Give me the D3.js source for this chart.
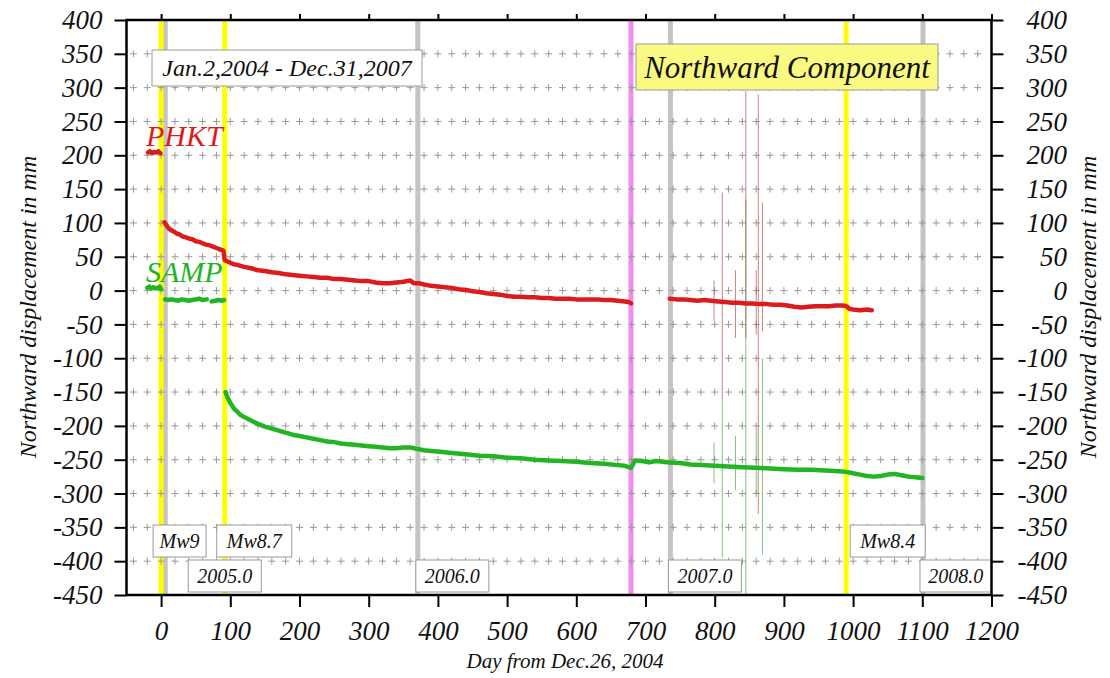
<!DOCTYPE html>
<html>
<head>
<meta charset="utf-8">
<script src="https://cdn.jsdelivr.net/npm/d3@7"></script>
<style>
  html, body { margin: 0; padding: 0; background: #fff; }
  svg { display: block; }
  text { font-family: "Liberation Serif", "Times New Roman", serif; font-style: italic; fill: #111; }
</style>
</head>
<body>
<div id="chart"></div>
<script>
// ---- data (day from Dec.26 2004, northward mm) ----
// null marks a gap in the record
var phkt = [
  [-19,204],[-16,206],[-13,203],[-10,205],[-7,204],[-4,206],[-1,203], null,
  [5,101],[8,96],[11,92],[15,89],[19,87],[23,84],[27,83],[31,80],[35,79],[40,77],[45,76],
  [50,73],[55,72],[60,70],[65,68],[70,67],[75,65],[80,63],[85,61],[90,59],
  [92,45],[96,43],[100,41],[105,39],[110,38],[120,35],[130,33],[140,30],[150,29],[160,27],
  [170,26],[180,24],[190,23],[200,22],[210,21],[220,20],[230,19],[240,19],[250,17],[260,17],
  [270,16],[280,15],[290,14],[300,14],[310,12],[320,11],[330,11],[340,12],[350,13],[360,15],
  [365,11],[372,11],[380,9],[390,7],[400,6],[410,5],[420,4],[430,2],[440,1],[450,-1],
  [460,-2],[470,-4],[480,-5],[490,-6],[500,-8],[510,-9],[520,-9],[530,-10],[540,-10],[550,-11],
  [560,-11],[570,-12],[580,-12],[590,-12],[600,-13],[610,-13],[620,-13],[630,-13],[640,-14],
  [650,-14],[660,-15],[670,-16],[676,-17],[679,-19], null,
  [735,-12],[745,-13],[755,-13],[765,-14],[775,-15],[785,-14],[795,-15],[805,-16],[815,-17],
  [825,-18],[835,-18],[845,-19],[855,-19],[865,-20],[875,-20],[885,-21],[895,-21],[905,-22],
  [915,-24],[925,-25],[935,-24],[945,-23],[955,-23],[965,-23],[975,-22],[985,-22],[990,-23],
  [995,-27],[1000,-28],[1010,-29],[1020,-28],[1027,-29]
];

var samp = [
  [-20,4],[-17,6],[-14,3],[-11,5],[-8,3],[-5,4],[-2,6],[0,2], null,
  [6,-13],[10,-14],[15,-13],[20,-14],[25,-15],[30,-13],[35,-14],[40,-15],[45,-14],[50,-13],
  [55,-12],[60,-14],[66,-13], null,
  [73,-16],[78,-15],[83,-14],[88,-15],[91,-14], null,
  [93,-150],[96,-158],[100,-166],[105,-174],[110,-179],[115,-184],[120,-187],[130,-192],
  [140,-197],[150,-201],[160,-204],[170,-207],[180,-210],[190,-213],[200,-215],[210,-217],
  [220,-219],[230,-221],[240,-223],[250,-224],[260,-226],[270,-227],[280,-228],[290,-229],
  [300,-230],[310,-231],[320,-232],[330,-233],[340,-233],[350,-232],[360,-232],[370,-234],
  [380,-236],[390,-237],[400,-238],[420,-240],[440,-242],[460,-244],[480,-245],[500,-247],
  [520,-248],[540,-250],[560,-251],[580,-252],[600,-253],[620,-255],[640,-256],[660,-258],
  [670,-259],[679,-262],[685,-251],[695,-252],[705,-254],[715,-252],[725,-253],[735,-254],
  [750,-255],[765,-257],[780,-258],[800,-259],[820,-260],[840,-261],[860,-262],[880,-263],
  [900,-264],[920,-265],[940,-265],[960,-266],[980,-267],[990,-268],[1000,-270],[1010,-272],
  [1020,-274],[1030,-275],[1040,-274],[1050,-272],[1060,-271],[1070,-273],[1080,-275],
  [1090,-276],[1100,-277]
];

// outlier days drawn as thin vertical strokes: [day, top, bottom]
var phktSpikes = [[799,15,-45],[811,145,-160],[830,30,-70],[845,295,-70],[860,30,-65],[863,290,-330],[869,130,-60]];
var sampSpikes = [[799,-225,-285],[811,-160,-395],[830,-215,-295],[845,135,-450],[860,-205,-300],[869,-100,-390]];

var quakeDays   = [0, 92, 990];
var quakeLabels = ['Mw9', 'Mw8.7', 'Mw8.4'];
var yearDays    = [6, 371, 736, 1101];
var yearLabels  = ['2005.0', '2006.0', '2007.0', '2008.0'];
var breakDays   = [679];

var xTicks = d3.range(0, 1201, 100);
var yTicks = d3.range(-450, 401, 50);

var periodText = 'Jan.2,2004 - Dec.31,2007';
var titleText  = 'Northward Component';

// ---- layout ----
var config = {
  width: 1110, height: 678,
  left: 126.5, right: 991.5, top: 20, bottom: 595,
  tickFont: 27, boxFont: 20,
  red: '#dc1c1c', green: '#22b422',
  yellow: '#ffff00', gray: '#c4c4c4', pink: '#f08ef0',
  quakeDx: [-8, -8, 4],        // box offset from the event line
  yearDx:  [23, -2, -2, -3],
  rightLabelEnd: 1067          // right tick labels are right-aligned here
};

var svg = d3.select('#chart').append('svg')
  .attr('width', config.width).attr('height', config.height);

var x = d3.scaleLinear().domain([-50, 1200]).range([config.left, config.right]);
var y = d3.scaleLinear().domain([-450, 400]).range([config.bottom, config.top]);

// vertical marker lines
function vlines(days, color) {
  svg.append('g').selectAll('line').data(days).enter().append('line')
    .attr('x1', function(d) { return x(d); }).attr('x2', function(d) { return x(d); })
    .attr('y1', config.top).attr('y2', config.bottom)
    .attr('stroke', color).attr('stroke-width', 5);
}
vlines(yearDays, config.gray);
vlines(quakeDays, config.yellow);
vlines(breakDays, config.pink);

// "+" grid
var crossDays = d3.range(-40, 1200, 20);
var crossVals = d3.range(-400, 400, 50);
var crosses = [];
crossDays.forEach(function(d) { crossVals.forEach(function(v) { crosses.push([d, v]); }); });
svg.append('path')
  .attr('d', crosses.map(function(c) {
    var cx = x(c[0]), cy = y(c[1]);
    return 'M' + (cx - 3.5) + ',' + cy + 'h7M' + cx + ',' + (cy - 3.5) + 'v7';
  }).join(''))
  .attr('stroke', '#999').attr('stroke-width', 1).attr('fill', 'none');

// outlier spikes
function spikes(data, color) {
  svg.append('g').selectAll('line').data(data).enter().append('line')
    .attr('x1', function(d) { return x(d[0]); }).attr('x2', function(d) { return x(d[0]); })
    .attr('y1', function(d) { return y(d[1]); }).attr('y2', function(d) { return y(d[2]); })
    .attr('stroke', color).attr('stroke-width', 1).attr('opacity', 0.7);
}
spikes(sampSpikes, '#4aa84a');
spikes(phktSpikes, '#b85050');

// station series
var line = d3.line()
  .defined(function(d) { return d !== null; })
  .x(function(d) { return x(d[0]); })
  .y(function(d) { return y(d[1]); });

[[phkt, config.red], [samp, config.green]].forEach(function(s) {
  svg.append('path').datum(s[0]).attr('d', line)
    .attr('fill', 'none').attr('stroke', s[1]).attr('stroke-width', 4.5)
    .attr('stroke-linejoin', 'round').attr('stroke-linecap', 'round');
});

// station names
svg.append('text').attr('x', 146).attr('y', 146).attr('font-size', 30)
  .style('fill', config.red).text('PHKT');
svg.append('text').attr('x', 146).attr('y', 282).attr('font-size', 30)
  .style('fill', config.green).text('SAMP');

// labelled boxes
function box(px, py, w, h, label, size, fill) {
  svg.append('rect').attr('x', px).attr('y', py).attr('width', w).attr('height', h)
    .attr('fill', fill || '#fff').attr('stroke', '#999').attr('stroke-width', 1);
  svg.append('text').attr('x', px + w / 2).attr('y', py + h / 2).attr('dy', '0.35em')
    .attr('text-anchor', 'middle').attr('font-size', size).text(label);
}
quakeDays.forEach(function(d, i) {
  var w = quakeLabels[i].length * 11 + 20;
  box(x(d) + config.quakeDx[i], 525, w, 32, quakeLabels[i], config.boxFont);
});
yearDays.forEach(function(d, i) {
  var w = Math.min(73, config.right - (x(d) + config.yearDx[i]));
  box(x(d) + config.yearDx[i], 560, w, 32, yearLabels[i], config.boxFont);
});
box(152, 50, 270, 36, periodText, 24);
box(636, 44, 302, 46, titleText, 31, '#fafa82');

// frame
svg.append('rect')
  .attr('x', config.left).attr('y', config.top)
  .attr('width', config.right - config.left).attr('height', config.bottom - config.top)
  .attr('fill', 'none').attr('stroke', '#000').attr('stroke-width', 2.5);

// axes
function styleAxis(g) {
  g.attr('font-family', null).attr('font-size', null);
  g.select('.domain').remove();
  g.selectAll('line').attr('stroke', '#000').attr('stroke-width', 2);
  g.selectAll('text')
    .style('font-family', '"Liberation Serif", "Times New Roman", serif')
    .style('font-style', 'italic')
    .style('font-size', config.tickFont + 'px');
}
var fmt = function(d) { return String(d); };   // plain hyphen minus, as in the original
svg.append('g').attr('transform', 'translate(' + config.left + ',0)')
  .call(d3.axisLeft(y).tickValues(yTicks).tickFormat(fmt).tickSize(12).tickPadding(12)).call(styleAxis);
svg.append('g').attr('transform', 'translate(' + config.right + ',0)')
  .call(d3.axisRight(y).tickValues(yTicks).tickFormat(fmt).tickSize(12)).call(styleAxis)
  .selectAll('text').attr('text-anchor', 'end').attr('x', config.rightLabelEnd - config.right);
svg.append('g').attr('transform', 'translate(0,' + config.bottom + ')')
  .call(d3.axisBottom(x).tickValues(xTicks).tickFormat(fmt).tickSize(12).tickPadding(14)).call(styleAxis);
svg.append('g').attr('transform', 'translate(0,' + config.top + ')')
  .call(d3.axisTop(x).tickValues(xTicks).tickSize(6).tickFormat('')).call(styleAxis);

// axis titles
svg.append('text').attr('x', 565).attr('y', 668).attr('text-anchor', 'middle')
  .attr('font-size', 21).text('Day from Dec.26, 2004');
[36, 1096].forEach(function(px) {
  svg.append('text').attr('transform', 'translate(' + px + ',307) rotate(-90)')
    .attr('text-anchor', 'middle').attr('font-size', 24).text('Northward displacement in mm');
});
</script>
</body>
</html>
